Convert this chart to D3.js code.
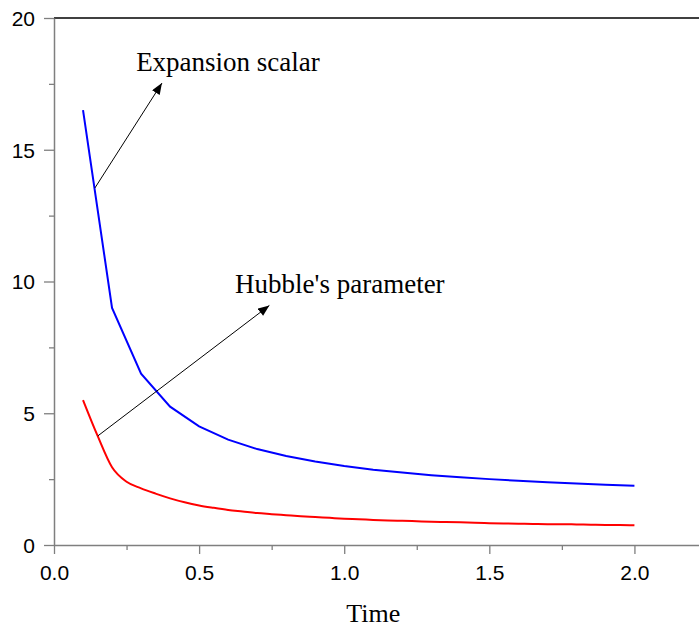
<!DOCTYPE html>
<html>
<head>
<meta charset="utf-8">
<script src="https://cdn.jsdelivr.net/npm/d3@7"></script>
<style>
  html, body { margin: 0; padding: 0; background: #fff; }
  svg { display: block; }
</style>
</head>
<body>
<svg id="chart" width="699" height="627"></svg>
<script>
// Expansion scalar, sampled every 0.1 in time
const timeExpansion = [0.1, 0.2, 0.3, 0.4, 0.5, 0.6, 0.7, 0.8, 0.9, 1.0,
  1.1, 1.2, 1.3, 1.4, 1.5, 1.6, 1.7, 1.8, 1.9, 2.0];
const expansionScalar = [16.5, 9.0, 6.5, 5.25, 4.5, 4.0, 3.64, 3.38, 3.17, 3.0,
  2.86, 2.75, 2.65, 2.57, 2.5, 2.44, 2.38, 2.33, 2.29, 2.25];

// Hubble's parameter, sampled every 0.05 in time
const timeHubble = [0.1, 0.15, 0.2, 0.25, 0.3, 0.35, 0.4, 0.45, 0.5, 0.55,
  0.6, 0.65, 0.7, 0.75, 0.8, 0.85, 0.9, 0.95, 1.0, 1.05,
  1.1, 1.15, 1.2, 1.25, 1.3, 1.35, 1.4, 1.45, 1.5, 1.55,
  1.6, 1.65, 1.7, 1.75, 1.8, 1.85, 1.9, 1.95, 2.0];
const hubbleParameter = [5.5, 4.15, 2.95, 2.4, 2.15, 1.95, 1.77, 1.62, 1.5, 1.41,
  1.33, 1.27, 1.21, 1.17, 1.13, 1.09, 1.06, 1.03, 1.0, 0.98,
  0.95, 0.93, 0.92, 0.9, 0.88, 0.87, 0.86, 0.84, 0.83, 0.82,
  0.81, 0.8, 0.79, 0.79, 0.78, 0.77, 0.76, 0.76, 0.75];

const xTickLabels = ["0.0", "0.5", "1.0", "1.5", "2.0"];
const yTickLabels = ["0", "5", "10", "15", "20"];

// Annotations: label text, label anchor, arrow tail and arrow head (data units)
const annotations = [
  { text: "Expansion scalar", lx: 0.283, ly: 18.0, from: [0.141, 13.55], to: [0.372, 17.53] },
  { text: "Hubble's parameter", lx: 0.624, ly: 9.55, from: [0.151, 4.14], to: [0.742, 9.09] }
];

const svg = d3.select("#chart");
const plotLeft = 54, plotTop = 18, plotRight = 699, plotBottom = 545;

const x = d3.scaleLinear().domain([0, 2.2225]).range([plotLeft, plotRight]);
const y = d3.scaleLinear().domain([0, 20]).range([plotBottom, plotTop]);

const axisGrey = "#7f7f7f";

svg.append("defs").append("marker")
  .attr("id", "arrowhead")
  .attr("viewBox", "0 0 10 8")
  .attr("refX", 10).attr("refY", 4)
  .attr("markerWidth", 12).attr("markerHeight", 9)
  .attr("markerUnits", "userSpaceOnUse")
  .attr("orient", "auto")
  .append("path").attr("d", "M0,0 L10,4 L0,8 Z").attr("fill", "#000");

// top frame line
svg.append("line")
  .attr("x1", plotLeft).attr("x2", plotRight).attr("y1", plotTop).attr("y2", plotTop)
  .attr("stroke", "#000").attr("stroke-width", 1.3);

// x axis
const xAxis = d3.axisBottom(x)
  .tickValues(d3.range(0, 2.01, 0.25))
  .tickSize(0)
  .tickFormat("");
const gx = svg.append("g").attr("transform", `translate(0,${plotBottom})`).call(xAxis);
gx.select(".domain").attr("stroke", axisGrey).attr("stroke-width", 1.5);
gx.selectAll(".tick line")
  .attr("y2", (d, i) => i % 2 === 0 ? 9 : 5)
  .attr("stroke", axisGrey).attr("stroke-width", 1.3);
gx.selectAll(".tick").filter((d, i) => i % 2 === 0)
  .append("text")
  .attr("y", 35).attr("fill", "#000")
  .attr("text-anchor", "middle")
  .style("font-family", "'Liberation Sans', Arial, sans-serif")
  .style("font-size", "21px")
  .text((d, i) => xTickLabels[i]);

// y axis
const yAxis = d3.axisLeft(y)
  .tickValues(d3.range(0, 20.01, 2.5))
  .tickSize(0)
  .tickFormat("");
const gy = svg.append("g").attr("transform", `translate(${plotLeft},0)`).call(yAxis);
gy.select(".domain").attr("stroke", axisGrey).attr("stroke-width", 1.5);
gy.selectAll(".tick line")
  .attr("x2", (d, i) => i % 2 === 0 ? -10 : -5)
  .attr("stroke", axisGrey).attr("stroke-width", 1.3);
gy.selectAll(".tick").filter((d, i) => i % 2 === 0)
  .append("text")
  .attr("x", -19).attr("dy", "0.35em").attr("fill", "#000")
  .attr("text-anchor", "end")
  .style("font-family", "'Liberation Sans', Arial, sans-serif")
  .style("font-size", "21px")
  .text((d, i) => yTickLabels[i]);

// x axis title
svg.append("text")
  .attr("x", x(1.1)).attr("y", 622)
  .attr("text-anchor", "middle")
  .style("font-family", "'Liberation Serif', 'Times New Roman', serif")
  .style("font-size", "26px")
  .text("Time");

// curves
const line = d3.line().x(d => x(d[0])).y(d => y(d[1]));
const smoothLine = d3.line().x(d => x(d[0])).y(d => y(d[1])).curve(d3.curveMonotoneX);

svg.append("path")
  .datum(timeExpansion.map((t, i) => [t, expansionScalar[i]]))
  .attr("d", line)
  .attr("fill", "none").attr("stroke", "#0000ff").attr("stroke-width", 2);

svg.append("path")
  .datum(timeHubble.map((t, i) => [t, hubbleParameter[i]]))
  .attr("d", smoothLine)
  .attr("fill", "none").attr("stroke", "#ff0000").attr("stroke-width", 2);

// annotations
annotations.forEach(a => {
  svg.append("line")
    .attr("x1", x(a.from[0])).attr("y1", y(a.from[1]))
    .attr("x2", x(a.to[0])).attr("y2", y(a.to[1]))
    .attr("stroke", "#000").attr("stroke-width", 1)
    .attr("marker-end", "url(#arrowhead)");
  svg.append("text")
    .attr("x", x(a.lx)).attr("y", y(a.ly))
    .style("font-family", "'Liberation Serif', 'Times New Roman', serif")
    .style("font-size", "27px")
    .text(a.text);
});
</script>
</body>
</html>
